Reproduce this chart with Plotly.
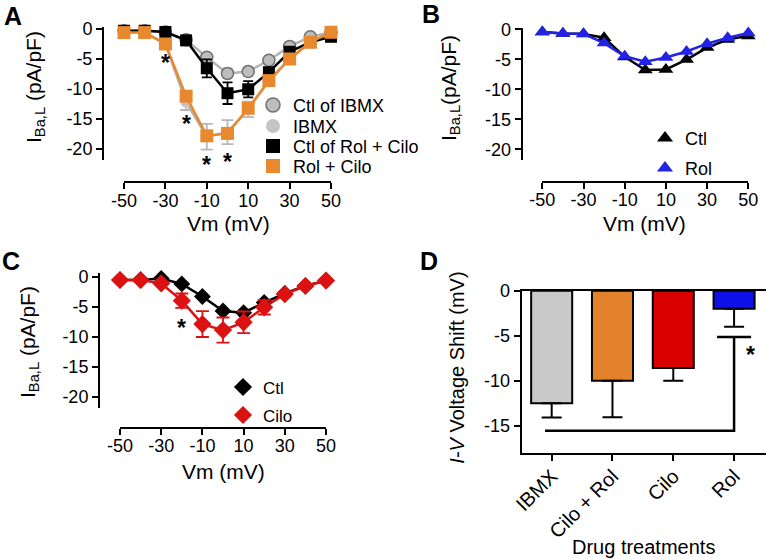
import plotly.graph_objects as go

W, H = 766, 559
FONT = "Liberation Sans, Arial, sans-serif"

# ---------------- data ----------------
vm = [-50, -40, -30, -20, -10, 0, 10, 20, 30, 40, 50]
vm_tick_vals = [-50, -30, -10, 10, 30, 50]
vm_tick_text = ["-50", "-30", "-10", "10", "30", "50"]
iv_tick_vals = [0, -5, -10, -15, -20]
iv_tick_text = ["0", "-5", "-10", "-15", "-20"]

# Panel A
a_ctl_ibmx = [-0.3, -0.3, -0.5, -1.8, -4.7, -7.4, -7.1, -5.2, -2.9, -1.3, -0.6]
a_ctl_ibmx_err = [0.0, 0.0, 0.1, 0.3, 0.6, 0.8, 0.7, 0.5, 0.4, 0.3, 0.2]
a_ibmx = [-0.6, -0.6, -2.5, -12.2, -17.95, -17.2, -13.4, -8.7, -5.0, -2.2, -0.6]
a_ibmx_err = [0.1, 0.1, 0.4, 1.3, 2.15, 2.0, 1.3, 0.8, 0.5, 0.3, 0.1]
a_ctl_rc = [-0.3, -0.3, -0.5, -1.9, -6.55, -10.7, -10.05, -7.2, -3.8, -2.2, -1.3]
a_ctl_rc_err = [0.1, 0.1, 0.2, 0.4, 1.5, 1.8, 1.35, 0.7, 0.5, 0.3, 0.2]
a_rc = [-0.6, -0.6, -2.5, -11.2, -17.8, -17.4, -13.2, -8.6, -5.0, -2.2, -0.55]
a_star_x = [-30, -20, -10, 0]
a_star_y = [-4.9, -15.0, -21.8, -21.3]

# Panel B
b_ctl = [-0.45, -0.7, -0.8, -1.4, -4.6, -6.8, -6.7, -5.05, -3.05, -1.7, -1.1]
b_rol = [-0.45, -0.7, -0.75, -2.3, -4.5, -5.4, -4.7, -3.7, -2.4, -1.4, -0.6]

# Panel C
c_ctl = [-0.55, -0.55, -0.3, -1.2, -3.3, -5.7, -6.0, -4.3, -2.8, -1.5, -0.65]
c_ctl_err = [0.0, 0.0, 0.1, 0.2, 0.3, 0.4, 0.5, 0.4, 0.3, 0.2, 0.1]
c_cilo = [-0.55, -0.55, -1.1, -4.0, -7.9, -8.9, -7.6, -5.1, -2.9, -1.55, -0.65]
c_cilo_err = [0.1, 0.1, 0.2, 1.2, 2.15, 2.1, 1.8, 1.2, 0.4, 0.3, 0.1]
c_star_x = [-20]
c_star_y = [-7.7]

# Panel D
d_cats = ["IBMX", "Cilo + Rol", "Cilo", "Rol"]
d_shift = [-12.5, -10.0, -8.6, -2.0]
d_err = [1.6, 4.07, 1.4, 2.0]
d_colors = ["#c9c9c9", "#e3822a", "#d90000", "#1010e8"]
d_tick_vals = [0, -5, -10, -15]
d_tick_text = ["0", "-5", "-10", "-15"]
d_bracket_x = [-0.11, 3, 3]
d_bracket_y = [-15.55, -15.55, -5.15]
d_cap_x = [2.72, 3.28]
d_cap_y = [-5.15, -5.15]
d_star_x = [3.27]
d_star_y = [-6.6]

# ---------------- helpers ----------------
def px(x):
    return x / W

def py(y):
    return 1 - y / H

GRAY_FILL = "#bdbdbd"
GRAY_EDGE = "#707070"
GRAY_LINE = "#b4b4b4"
ORANGE = "#e8892f"
BLUE = "#2323e6"
RED = "#dc1111"

fig = go.Figure()
legends = {}
leg_count = [0]

def add_legend_entry(name, sym, col, xa, ya, mx, row_y, fsize, edge=None, ew=0, msize=13):
    leg_count[0] += 1
    lid = "legend" if leg_count[0] == 1 else "legend%d" % leg_count[0]
    h = fsize * 1.3 + 3
    legends[lid] = dict(x=px(mx), y=py(row_y - 5 - h / 2), xanchor="left", yanchor="top",
                        bgcolor="rgba(0,0,0,0)", borderwidth=0, itemwidth=30,
                        font=dict(size=fsize, color="black", family=FONT))
    fig.add_trace(go.Scatter(x=[None], y=[None], mode="markers", xaxis=xa, yaxis=ya,
        marker=dict(symbol=sym, size=msize, color=col, line=dict(color=edge or col, width=ew)),
        name=name, legend=lid, showlegend=True))

# ---- Panel A traces ----
fig.add_trace(go.Scatter(x=vm, y=a_ctl_ibmx, mode="lines+markers", xaxis="x", yaxis="y",
    line=dict(color=GRAY_LINE, width=2.5),
    marker=dict(symbol="circle", size=12, color=GRAY_FILL, line=dict(color=GRAY_EDGE, width=1.5)),
    error_y=dict(type="data", array=a_ctl_ibmx_err, color=GRAY_LINE, thickness=1.8, width=5),
    showlegend=False, cliponaxis=False))
fig.add_trace(go.Scatter(x=vm, y=a_ibmx, mode="lines+markers", xaxis="x", yaxis="y",
    line=dict(color=GRAY_LINE, width=2.5),
    marker=dict(symbol="circle", size=11, color="#c4c4c4"),
    error_y=dict(type="data", array=a_ibmx_err, color="#b8b8b8", thickness=1.8, width=6),
    showlegend=False, cliponaxis=False))
fig.add_trace(go.Scatter(x=vm, y=a_ctl_rc, mode="lines+markers", xaxis="x", yaxis="y",
    line=dict(color="black", width=2.5),
    marker=dict(symbol="square", size=12, color="black"),
    error_y=dict(type="data", array=a_ctl_rc_err, color="black", thickness=1.8, width=5),
    showlegend=False, cliponaxis=False))
fig.add_trace(go.Scatter(x=vm, y=a_rc, mode="lines+markers", xaxis="x", yaxis="y",
    line=dict(color=ORANGE, width=2.5),
    marker=dict(symbol="square", size=13, color=ORANGE),
    showlegend=False, cliponaxis=False))

a_leg_rows = [105, 126, 146, 166]
for (name, sym, col, edge, ew), ry in zip([
    ("Ctl of IBMX", "circle", GRAY_FILL, GRAY_EDGE, 1.5),
    ("IBMX", "circle", "#c4c4c4", None, 0),
    ("Ctl of Rol + Cilo", "square", "black", None, 0),
    ("Rol + Cilo", "square", ORANGE, None, 0),
], a_leg_rows):
    add_legend_entry(name, sym, col, "x", "y", 253, ry, 18, edge=edge, ew=ew, msize=14)

# ---- Panel B traces ----
fig.add_trace(go.Scatter(x=vm, y=b_ctl, mode="lines+markers", xaxis="x2", yaxis="y2",
    line=dict(color="black", width=2.5),
    marker=dict(symbol="triangle-up", size=13, color="black"),
    showlegend=False, cliponaxis=False))
fig.add_trace(go.Scatter(x=vm, y=b_rol, mode="lines+markers", xaxis="x2", yaxis="y2",
    line=dict(color=BLUE, width=2.5),
    marker=dict(symbol="triangle-up", size=13, color=BLUE),
    showlegend=False, cliponaxis=False))
for (name, col), ry in zip([("Ctl", "black"), ("Rol", BLUE)], [138, 168]):
    add_legend_entry(name, "triangle-up", col, "x2", "y2", 645, ry, 18, msize=14)

# ---- Panel C traces ----
fig.add_trace(go.Scatter(x=vm, y=c_ctl, mode="lines+markers", xaxis="x3", yaxis="y3",
    line=dict(color="black", width=2.5),
    marker=dict(symbol="diamond", size=13, color="black"),
    error_y=dict(type="data", array=c_ctl_err, color="black", thickness=1.8, width=5),
    showlegend=False, cliponaxis=False))
fig.add_trace(go.Scatter(x=vm, y=c_cilo, mode="lines+markers", xaxis="x3", yaxis="y3",
    line=dict(color=RED, width=2.5),
    marker=dict(symbol="diamond", size=14, color=RED),
    error_y=dict(type="data", array=c_cilo_err, color=RED, thickness=1.8, width=6.5),
    showlegend=False, cliponaxis=False))
for (name, col), ry in zip([("Ctl", "black"), ("Cilo", RED)], [387, 415]):
    add_legend_entry(name, "diamond", col, "x3", "y3", 223, ry, 17, msize=14)

# ---- Panel D traces ----
fig.add_trace(go.Bar(x=list(range(len(d_cats))), y=d_shift, width=0.675, xaxis="x4", yaxis="y4",
    marker=dict(color=d_colors, line=dict(color="black", width=2)),
    error_y=dict(type="data", symmetric=False, array=[0] * len(d_cats), arrayminus=d_err,
                 color="black", thickness=2, width=10),
    showlegend=False))
fig.add_trace(go.Scatter(x=d_bracket_x, y=d_bracket_y, mode="lines", xaxis="x4", yaxis="y4",
    line=dict(color="black", width=2.5), showlegend=False, cliponaxis=False))
fig.add_trace(go.Scatter(x=d_cap_x, y=d_cap_y, mode="lines", xaxis="x4", yaxis="y4",
    line=dict(color="black", width=2.5), showlegend=False, cliponaxis=False))

# ---------------- axes ----------------
ax = dict(showline=True, linecolor="black", linewidth=2, ticks="outside", ticklen=6,
          tickwidth=2, tickcolor="black", showgrid=False, zeroline=False, automargin=False,
          tickfont=dict(size=18, color="black", family=FONT))
vm_ticks = dict(tickmode="array", tickvals=vm_tick_vals, ticktext=vm_tick_text)
iv_ticks = dict(tickmode="array", tickvals=iv_tick_vals, ticktext=iv_tick_text)
ax_d = dict(ax)
ax_d["tickfont"] = dict(size=20, color="black", family=FONT)

layout_axes = dict(
    xaxis=dict(**ax, **vm_ticks, domain=[px(124), px(331)], range=[-50, 50], anchor="free", position=py(182)),
    yaxis=dict(**ax, **iv_ticks, domain=[py(160), py(27)], range=[-21.83, 0.33], anchor="free", position=px(103)),
    xaxis2=dict(**ax, **vm_ticks, domain=[px(542.3), px(748.3)], range=[-50, 50], anchor="free", position=py(181.7)),
    yaxis2=dict(**ax, **iv_ticks, domain=[py(160), py(27.5)], range=[-21.8, 0.3], anchor="free", position=px(521.7)),
    xaxis3=dict(**ax, **vm_ticks, domain=[px(120), px(326)], range=[-50, 50], anchor="free", position=py(427.7)),
    yaxis3=dict(**ax, **iv_ticks, domain=[py(408.3), py(273)], range=[-21.93, 0.62], anchor="free", position=px(99)),
    xaxis4=dict(**ax_d, tickmode="array", tickvals=list(range(len(d_cats))), ticktext=d_cats,
                tickangle=-45, domain=[px(521.7), 1.0], range=[-0.493, 3.525], anchor="y4", mirror=True),
    yaxis4=dict(**ax, tickmode="array", tickvals=d_tick_vals, ticktext=d_tick_text,
                domain=[py(452.7), py(290.7)], range=[-18.0, 0], anchor="x4"),
)

# ---------------- annotations ----------------
ann = []
def txt(x, y, s, size=20, bold=False, angle=0, xref="paper", yref="paper", yshift=0):
    ann.append(dict(x=x, y=y, xref=xref, yref=yref, text=("<b>%s</b>" % s) if bold else s,
                    showarrow=False, textangle=angle, xanchor="center", yanchor="middle",
                    yshift=yshift, font=dict(size=size, color="black", family=FONT)))

# panel letters
txt(px(13), py(16), "A", size=25, bold=True)
txt(px(431), py(14), "B", size=25, bold=True)
txt(px(11), py(261), "C", size=25, bold=True)
txt(px(428.5), py(261), "D", size=25, bold=True)

# axis titles
ylab = "I<sub>Ba,L</sub> (pA/pF)"
txt(px(35), py(87), ylab, size=21, angle=-90)
txt(px(450), py(88), "I<sub>Ba,L</sub>(pA/pF)", size=21, angle=-90)
txt(px(29), py(342), ylab, size=21, angle=-90)
txt(px(456.7), py(368), "<i>I-V</i> Voltage Shift (mV)", size=20, angle=-90)
txt(px(228), py(223), "Vm (mV)", size=21)
txt(px(644), py(223), "Vm (mV)", size=21)
txt(px(223), py(471.7), "Vm (mV)", size=21)
txt(px(643), py(546.7), "Drug treatments", size=20)

# significance stars
for sx, sy in zip(a_star_x, a_star_y):
    txt(sx, sy, "*", size=23, bold=True, xref="x", yref="y", yshift=-5)
for sx, sy in zip(c_star_x, c_star_y):
    txt(sx, sy, "*", size=23, bold=True, xref="x3", yref="y3", yshift=-5)
for sx, sy in zip(d_star_x, d_star_y):
    txt(sx, sy, "*", size=23, bold=True, xref="x4", yref="y4", yshift=-5)

fig.update_layout(
    width=W, height=H, margin=dict(l=0, r=0, t=0, b=0, pad=0, autoexpand=False), autosize=False,
    paper_bgcolor="white", plot_bgcolor="white",
    font=dict(family=FONT, color="black"),
    annotations=ann,
    **legends,
    **layout_axes,
)
try:
    fig.update_xaxes(ticklabelstandoff=-4)
except Exception:
    pass

fig.write_html("out.html", config={"displayModeBar": False},
               post_script="document.body.style.margin='0px';document.body.style.padding='0px';")
